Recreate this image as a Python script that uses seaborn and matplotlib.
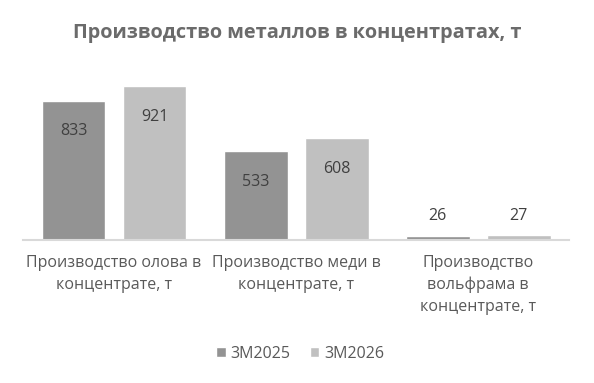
import matplotlib
matplotlib.use("Agg")
import matplotlib.pyplot as plt
import seaborn as sns
import pandas as pd

categories = ["Производство олова в\nконцентрате, т",
              "Производство меди в\nконцентрате, т",
              "Производство\nвольфрама в\nконцентрате, т"]
series = ["3M2025", "3M2026"]
values_2025 = [833, 533, 26]
values_2026 = [921, 608, 27]
title = "Производство металлов в концентратах, т"

sns.set_theme(style="white")
plt.rcParams['font.family'] = ['Open Sans', 'DejaVu Sans']

df = pd.DataFrame({
    "cat": categories * 2,
    "series": [series[0]] * 3 + [series[1]] * 3,
    "val": values_2025 + values_2026,
})

fig = plt.figure(figsize=(5.94, 3.83), dpi=100)
ax = fig.add_axes([0.0387, 0.3734, 0.9193, 0.436])
palette = {series[0]: "#939393", series[1]: "#c0c0c0"}
sns.barplot(data=df, x="cat", y="val", hue="series", palette=palette,
            width=0.89, gap=0.21, ax=ax, saturation=1, legend=True)

ax.set_ylim(0, 1000)
ax.set_xlim(-0.5, 2.5)
ax.set_xlabel("")
ax.set_ylabel("")
ax.set_yticks([])
for s in ["top", "right", "left"]:
    ax.spines[s].set_visible(False)
ax.spines["bottom"].set_color("#d9d9d9")
ax.spines["bottom"].set_linewidth(1.5)
ax.tick_params(axis="x", length=0, pad=11, labelsize=11.5, labelcolor="#595959")
for lbl in ax.get_xticklabels():
    lbl.set_linespacing(1.45)
    lbl.set_verticalalignment("top")

for cont in ax.containers:
    for bar in cont:
        h = bar.get_height()
        x = bar.get_x() + bar.get_width() / 2
        if h > 100:
            ax.annotate(f"{int(round(h))}", (x, h), xytext=(0, -22), textcoords="offset points",
                        ha="center", va="center", fontsize=11.5, color="#404040")
        else:
            ax.annotate(f"{int(round(h))}", (x, h), xytext=(0, 14), textcoords="offset points",
                        ha="center", va="center", fontsize=11.5, color="#404040")

fig.suptitle(title, y=0.94, fontsize=14.3, fontweight="bold", color="#6b6b6b")

handles, labels = ax.get_legend_handles_labels()
ax.legend_.remove()
fig.legend(handles, labels, loc="center", bbox_to_anchor=(0.505, 0.077), ncol=2,
           frameon=False, fontsize=11.5, labelcolor="#595959", handlelength=0.6,
           handleheight=0.6, handletextpad=0.3, columnspacing=1.2)

fig.savefig("out.png", dpi=100)
